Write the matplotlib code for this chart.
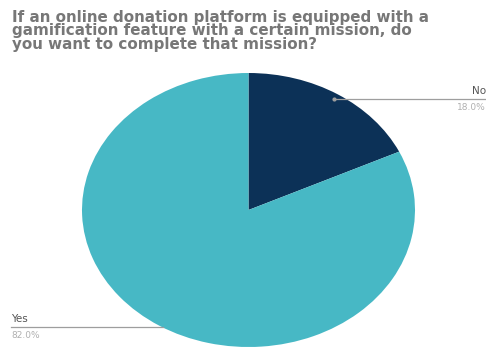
import numpy as np
import matplotlib
matplotlib.use("Agg")
import matplotlib.pyplot as plt

title = ("If an online donation platform is equipped with a\n"
         "gamification feature with a certain mission, do\n"
         "you want to complete that mission?")
labels = ["No", "Yes"]
shares = [18.0, 82.0]
colors = ["#0c3157", "#47b8c5"]

fig = plt.figure(figsize=(4.86, 3.5), dpi=100)
# the pie is stretched wider than tall, so the axes keep aspect 'auto'
ax = fig.add_axes([82 / 486, 3 / 350, 333 / 486, 274 / 350])
wedges, _ = ax.pie(shares, colors=colors, startangle=90, counterclock=False,
                   wedgeprops=dict(linewidth=0))
ax.set_aspect("auto")
ax.set_xlim(-1, 1)
ax.set_ylim(-1, 1)
ax.axis("off")

edge = 1.425  # label lines run out to the figure edge
for w, lab, pct in zip(wedges, labels, shares):
    mid = np.deg2rad((w.theta1 + w.theta2) / 2)
    x0, y0 = 0.96 * np.cos(mid), 0.96 * np.sin(mid)
    side = 1 if x0 > 0 else -1
    if side < 0:
        y0 -= 0.04
    x1 = side * edge
    ax.plot([x0, x1], [y0, y0], color="#9e9e9e", lw=0.9, clip_on=False)
    if side > 0:
        ax.plot([x0], [y0], "o", ms=2, color="#9e9e9e", clip_on=False)
    ha = "right" if side > 0 else "left"
    ax.text(x1, y0 + 0.02, lab, ha=ha, va="bottom", fontsize=7.5,
            color="#555555", clip_on=False)
    ax.text(x1, y0 - 0.03, f"{pct:.1f}%", ha=ha, va="top", fontsize=6.5,
            color="#b0b0b0", clip_on=False)

fig.text(12 / 486, 1 - 10 / 350, title, ha="left", va="top", fontsize=10.9,
         fontweight="bold", color="#777777", linespacing=0.86)

fig.savefig("out.png", dpi=100)
